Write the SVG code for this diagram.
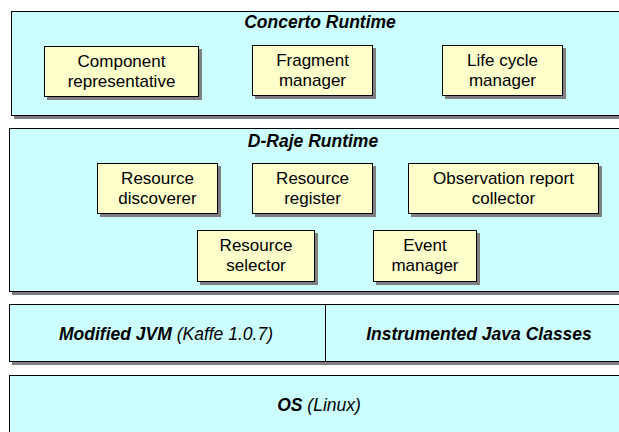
<svg xmlns="http://www.w3.org/2000/svg" width="619" height="432" viewBox="0 0 619 432">
<defs>
<style>
.panel{fill:#CCFFFF;stroke:#000;stroke-width:1}
.box{fill:#FFFFCC;stroke:#000;stroke-width:1}
.sh{fill:#7F7F7F}
text{font-family:"Liberation Sans",Arial,sans-serif;fill:#000}
.t{font-size:17px;text-anchor:middle}
.h{font-size:17.5px;font-weight:bold;font-style:italic;text-anchor:middle}
.i{font-weight:normal}
</style>
</defs>
<rect width="619" height="432" fill="#fff"/>
<g id="concerto">
<rect class="sh" x="14" y="14" width="640" height="105"/>
<rect class="panel" x="11.5" y="11.5" width="640" height="104"/>
<text class="h" x="320" y="28">Concerto Runtime</text>
</g>
<g id="component-representative">
<rect class="sh" x="47" y="49" width="155" height="51"/>
<rect class="box" x="44.5" y="46.5" width="154" height="50"/>
<text class="t" x="121.5" y="67">Component</text>
<text class="t" x="121.5" y="87">representative</text>
</g>
<g id="fragment-manager">
<rect class="sh" x="255" y="48" width="121" height="51"/>
<rect class="box" x="252.5" y="45.5" width="120" height="50"/>
<text class="t" x="312.5" y="66">Fragment</text>
<text class="t" x="312.5" y="86">manager</text>
</g>
<g id="life-cycle-manager">
<rect class="sh" x="445" y="48" width="121" height="51"/>
<rect class="box" x="442.5" y="45.5" width="120" height="50"/>
<text class="t" x="502.5" y="66">Life cycle</text>
<text class="t" x="502.5" y="86">manager</text>
</g>
<g id="draje">
<rect class="sh" x="12" y="131" width="640" height="164"/>
<rect class="panel" x="9.5" y="128.5" width="640" height="163"/>
<text class="h" x="313" y="147">D-Raje Runtime</text>
</g>
<g id="resource-discoverer">
<rect class="sh" x="100" y="166" width="121" height="51"/>
<rect class="box" x="97.5" y="163.5" width="120" height="50"/>
<text class="t" x="157.5" y="184">Resource</text>
<text class="t" x="157.5" y="204">discoverer</text>
</g>
<g id="resource-register">
<rect class="sh" x="255" y="166" width="121" height="51"/>
<rect class="box" x="252.5" y="163.5" width="120" height="50"/>
<text class="t" x="312.5" y="184">Resource</text>
<text class="t" x="312.5" y="204">register</text>
</g>
<g id="observation-report-collector">
<rect class="sh" x="411" y="166" width="191" height="51"/>
<rect class="box" x="408.5" y="163.5" width="190" height="50"/>
<text class="t" x="503.5" y="184">Observation report</text>
<text class="t" x="503.5" y="204">collector</text>
</g>
<g id="resource-selector">
<rect class="sh" x="200" y="233" width="118" height="52"/>
<rect class="box" x="197.5" y="230.5" width="117" height="51"/>
<text class="t" x="256" y="251">Resource</text>
<text class="t" x="256" y="271">selector</text>
</g>
<g id="event-manager">
<rect class="sh" x="376" y="233" width="104" height="52"/>
<rect class="box" x="373.5" y="230.5" width="103" height="51"/>
<text class="t" x="425" y="251">Event</text>
<text class="t" x="425" y="271">manager</text>
</g>
<g id="jvm-layer">
<rect class="sh" x="12" y="307" width="640" height="58"/>
<rect class="panel" x="9.5" y="304.5" width="640" height="57"/>
<line x1="325.5" y1="304.5" x2="325.5" y2="361.5" stroke="#000" stroke-width="1"/>
</g>
<g id="modified-jvm">
<text class="h" x="166" y="340">Modified JVM <tspan class="i">(Kaffe 1.0.7)</tspan></text>
</g>
<g id="instrumented-java-classes">
<text class="h" x="479" y="340">Instrumented Java Classes</text>
</g>
<g id="os">
<rect class="sh" x="12" y="378" width="640" height="60"/>
<rect class="panel" x="9.5" y="375.5" width="640" height="60"/>
<text class="h" x="319" y="411">OS <tspan class="i">(Linux)</tspan></text>
</g>
<g id="connectors"/>
</svg>
